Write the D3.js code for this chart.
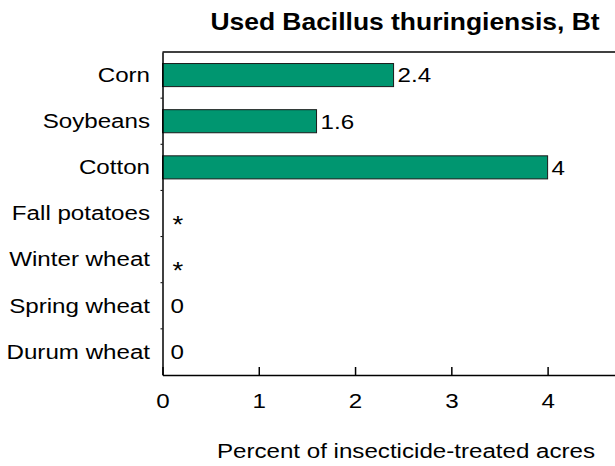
<!DOCTYPE html>
<meta charset="utf-8">
<head>
<title>Used Bacillus thuringiensis, Bt</title>
<style>
body { margin: 0; background: #fff; }
text { font-family: Arial, "Liberation Sans", sans-serif; fill: #000; }
.title { font-weight: bold; font-size: 23px; }
.lbl { font-size: 21px; }
.star { font-size: 24px; }
.domain { stroke: #000; stroke-width: 1.5px; }
.tick line { stroke: #000; stroke-width: 1.5px; }
</style>
</head>
<body>
<script src="https://cdn.jsdelivr.net/npm/d3@7"></script>
<div id="chart"></div>
<script>

  // data
  var crops = ["Corn", "Soybeans", "Cotton", "Fall potatoes", "Winter wheat", "Spring wheat", "Durum wheat"];
  var values = [2.4, 1.6, 4, null, null, 0, 0];
  var valueLabels = ["2.4", "1.6", "4", "*", "*", "0", "0"];
  var xTicks = [0, 1, 2, 3, 4];

  var width = 615,
    height = 466;

  // the original text is a bit wider than Arial, stretch it
  var sx = 1.15;

  var m = { left: 162.5, top: 52, bottom: 375, right: 615 };

  var svg = d3.select('#chart')
      .append('svg')
      .attr('width', width)
      .attr('height', height);

  var x = d3.scaleLinear()
      .domain([0, 4.7])
      .range([m.left, m.right]);

  var y = d3.scaleBand()
      .domain(crops)
      .range([m.top, m.bottom])
      .paddingInner(0.5)
      .paddingOuter(0.25);

  // place a stretched text at (px, py)
  function stretched(sel, px) {
    sel.attr('x', px / sx).attr('transform', 'scale(' + sx + ',1)');
  }

  // frame: top line
  svg.append('line')
      .attr('x1', m.left).attr('x2', m.right)
      .attr('y1', m.top).attr('y2', m.top)
      .attr('stroke', '#000').attr('stroke-width', 1.5);

  // bars
  svg.selectAll('rect.bar')
    .data(crops.filter(function(d, i) { return values[i] > 0; }))
    .enter()
    .append('rect')
      .attr('class', 'bar')
      .attr('x', x(0))
      .attr('y', function(d) { return y(d); })
      .attr('width', function(d) { return x(values[crops.indexOf(d)]) - x(0); })
      .attr('height', y.bandwidth())
      .attr('fill', '#009670')
      .attr('stroke', '#1a1a1a')
      .attr('stroke-width', 1);

  // value labels
  svg.selectAll('text.val')
    .data(crops)
    .enter()
    .append('text')
      .attr('class', function(d, i) { return valueLabels[i] === '*' ? 'lbl val star' : 'lbl val'; })
      .attr('y', function(d, i) {
        var c = y(d) + y.bandwidth() / 2;
        return valueLabels[i] === '*' ? c + 11 : c;
      })
      .attr('dy', '0.35em')
      .text(function(d, i) { return valueLabels[i]; })
      .each(function(d, i) {
        var px = valueLabels[i] === '*' ? x(0) + 10 : x(values[i] || 0) + (values[i] ? 4 : 8);
        stretched(d3.select(this), px);
      });

  // y axis
  var yAxis = svg.append('g')
      .attr('transform', 'translate(' + m.left + ',0)')
      .call(d3.axisLeft(y).tickSize(0).tickPadding(12));
  yAxis.selectAll('text')
      .attr('class', 'lbl')
      .each(function() { stretched(d3.select(this), -12.5); });
  yAxis.attr('font-size', null).attr('font-family', null);

  // small marks on the left axis between categories
  svg.selectAll('line.sep')
    .data(crops.slice(1))
    .enter()
    .append('line')
      .attr('class', 'sep')
      .attr('x1', m.left - 2).attr('x2', m.left)
      .attr('y1', function(d) { return y(d) - y.step() * y.paddingInner() / 2; })
      .attr('y2', function(d) { return y(d) - y.step() * y.paddingInner() / 2; })
      .attr('stroke', '#000');

  // x axis
  var xAxis = svg.append('g')
      .attr('transform', 'translate(0,' + m.bottom + ')')
      .call(d3.axisBottom(x).tickValues(xTicks).tickSize(-8).tickSizeOuter(0).tickPadding(18)
        .tickFormat(d3.format('d')));
  xAxis.selectAll('text')
      .attr('class', 'lbl')
      .attr('transform', 'scale(' + sx + ',1)');
  xAxis.attr('font-size', null).attr('font-family', null);

  // titles
  svg.append('text')
      .attr('class', 'title')
      .attr('y', 30)
      .attr('text-anchor', 'middle')
      .text('Used Bacillus thuringiensis, Bt')
      .call(stretched, 405);

  svg.append('text')
      .attr('class', 'lbl')
      .attr('y', 458)
      .attr('text-anchor', 'middle')
      .text('Percent of insecticide-treated acres')
      .call(stretched, 406);

</script>
</body>
